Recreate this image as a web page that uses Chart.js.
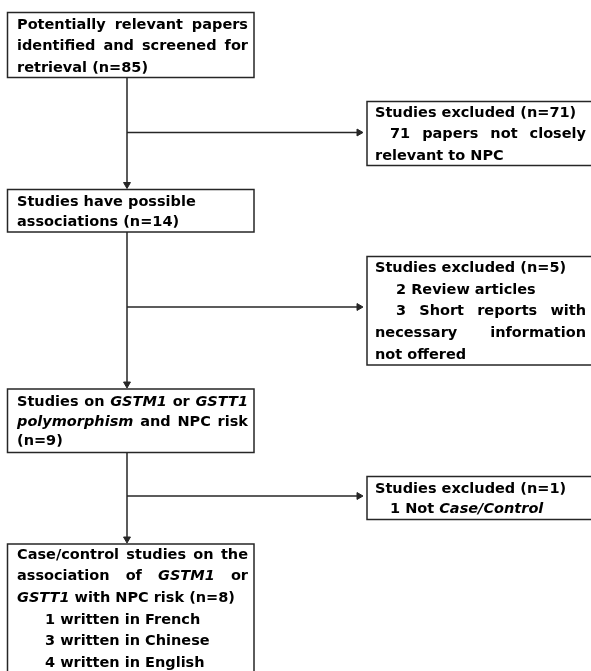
<!DOCTYPE html>
<html>
<head>
<meta charset="utf-8">
<script src="https://cdn.jsdelivr.net/npm/chart.js@4.4.1/dist/chart.umd.min.js"></script>
<style>
  body { margin: 0; background: #fff; }
  #wrap { width: 591px; height: 671px; }
</style>
</head>
<body>
<div id="wrap"><canvas id="flow"></canvas></div>
<script>
// counts
const stageCounts = [85, 14, 9, 8];
const excludedCounts = [71, 5, 1];
const excludedReasonCounts = [[71], [2, 3], [1]];
const languages = ["French", "Chinese", "English"];
const languageCounts = [1, 3, 4];

// box texts, _word_ = italic, j = justified line, ind = indent
const stageLines = [
  [
    { t: "Potentially relevant papers", j: 1 },
    { t: "identified and screened for", j: 1 },
    { t: `retrieval (n=${stageCounts[0]})` },
  ],
  [
    { t: "Studies have possible" },
    { t: `associations (n=${stageCounts[1]})` },
  ],
  [
    { t: "Studies on _GSTM1_ or _GSTT1_", j: 1 },
    { t: "_polymorphism_ and NPC risk", j: 1 },
    { t: `(n=${stageCounts[2]})` },
  ],
  [
    { t: "Case/control studies on the", j: 1 },
    { t: "association of _GSTM1_ or", j: 1 },
    { t: `_GSTT1_ with NPC risk (n=${stageCounts[3]})` },
  ].concat(
    languages.map((lang, i) => ({ t: `${languageCounts[i]} written in ${lang}`, ind: 28 }))
  ),
];

const excludedLines = [
  [
    { t: `Studies excluded (n=${excludedCounts[0]})` },
    { t: `${excludedReasonCounts[0][0]} papers not closely`, ind: 15, j: 1 },
    { t: "relevant to NPC" },
  ],
  [
    { t: `Studies excluded (n=${excludedCounts[1]})` },
    { t: `${excludedReasonCounts[1][0]} Review articles`, ind: 21 },
    { t: `${excludedReasonCounts[1][1]} Short reports with`, ind: 21, j: 1 },
    { t: "necessary information", j: 1 },
    { t: "not offered" },
  ],
  [
    { t: `Studies excluded (n=${excludedCounts[2]})` },
    { t: `${excludedReasonCounts[2][0]} Not _Case/Control_`, ind: 15 },
  ],
];

// layout in scale units (same as pixels here)
const layout = {
  mainX: 127,
  left: { x0: 7.5, x1: 254, textL: 17, textR: 248 },
  right: { x0: 367, x1: 600, textL: 375, textR: 586 },
  stageBoxes: [
    { y0: 12.5, y1: 77.5, first: 25, lh: 21.5 },
    { y0: 189.5, y1: 232, first: 202, lh: 20.5 },
    { y0: 389, y1: 452.5, first: 402.5, lh: 19.5 },
    { y0: 544, y1: 690, first: 555, lh: 21.6 },
  ],
  excludedBoxes: [
    { y0: 101.5, y1: 165.5, first: 113, lh: 21.7 },
    { y0: 256.5, y1: 365, first: 268.3, lh: 21.7 },
    { y0: 476.5, y1: 519.5, first: 489.3, lh: 20 },
  ],
  branchY: [132.5, 307, 496],
  arrowTipX: 363,
};

const lineColor = "#262626";
const arrowR = 4;

function connector(points, rotation) {
  return {
    data: points,
    showLine: true,
    borderColor: lineColor,
    borderWidth: 1.5,
    pointStyle: "triangle",
    rotation: rotation,
    pointBackgroundColor: lineColor,
    pointBorderColor: lineColor,
    pointBorderWidth: 1,
    pointRadius: (ctx) => (ctx.dataIndex === points.length - 1 ? arrowR : 0),
    pointHoverRadius: 0,
  };
}

const datasets = [];
for (let i = 0; i < 3; i++) {
  const from = layout.stageBoxes[i].y1;
  const tip = layout.stageBoxes[i + 1].y0 - 1;
  datasets.push(connector([{ x: layout.mainX, y: from }, { x: layout.mainX, y: tip - arrowR }], 180));
  const by = layout.branchY[i];
  datasets.push(connector([{ x: layout.mainX, y: by }, { x: layout.arrowTipX - arrowR, y: by }], 90));
}

function fontFor(italic) {
  return (italic ? "italic " : "") + 'bold 14.5px "DejaVu Sans"';
}

function parseWords(text) {
  return text.split(/\s+/).filter((w) => w.length).map((w) => {
    const it = /^_.*_$/.test(w);
    return { w: it ? w.slice(1, -1) : w, it: it };
  });
}

function drawLines(ctx, xs, ys, col, box, lines) {
  lines.forEach((line, k) => {
    const words = parseWords(line.t);
    const left = xs.getPixelForValue(col.textL + (line.ind || 0));
    const right = xs.getPixelForValue(col.textR);
    const y = ys.getPixelForValue(box.first + k * box.lh);
    const widths = words.map((wd) => {
      ctx.font = fontFor(wd.it);
      return ctx.measureText(wd.w).width;
    });
    ctx.font = fontFor(false);
    const spaceW = ctx.measureText(" ").width;
    let gap = spaceW;
    if (line.j && words.length > 1) {
      const total = widths.reduce((a, b) => a + b, 0);
      gap = (right - left - total) / (words.length - 1);
    }
    let x = left;
    words.forEach((wd, n) => {
      ctx.font = fontFor(wd.it);
      ctx.fillText(wd.w, x, y);
      x += widths[n] + gap;
    });
  });
}

const boxPlugin = {
  id: "flowBoxes",
  afterDatasetsDraw(chart) {
    const ctx = chart.ctx;
    const xs = chart.scales.x;
    const ys = chart.scales.y;
    ctx.save();
    ctx.textBaseline = "middle";
    ctx.textAlign = "left";
    const drawBox = (col, box, lines) => {
      const x0 = xs.getPixelForValue(col.x0);
      const x1 = xs.getPixelForValue(col.x1);
      const y0 = ys.getPixelForValue(box.y0);
      const y1 = ys.getPixelForValue(box.y1);
      ctx.fillStyle = "#fff";
      ctx.fillRect(x0, y0, x1 - x0, y1 - y0);
      ctx.strokeStyle = lineColor;
      ctx.lineWidth = 1.5;
      ctx.strokeRect(x0, y0, x1 - x0, y1 - y0);
      ctx.fillStyle = "#000";
      drawLines(ctx, xs, ys, col, box, lines);
    };
    layout.stageBoxes.forEach((b, i) => drawBox(layout.left, b, stageLines[i]));
    layout.excludedBoxes.forEach((b, i) => drawBox(layout.right, b, excludedLines[i]));
    ctx.restore();
  },
};

new Chart(document.getElementById("flow"), {
  type: "scatter",
  data: { datasets: datasets },
  options: {
    responsive: true,
    maintainAspectRatio: false,
    animation: false,
    events: [],
    layout: { padding: 0, autoPadding: false },
    plugins: { legend: { display: false }, tooltip: { enabled: false } },
    scales: {
      x: { type: "linear", min: 0, max: 591, display: false },
      y: { type: "linear", min: 0, max: 671, reverse: true, display: false },
    },
  },
  plugins: [boxPlugin],
});
</script>
</body>
</html>
